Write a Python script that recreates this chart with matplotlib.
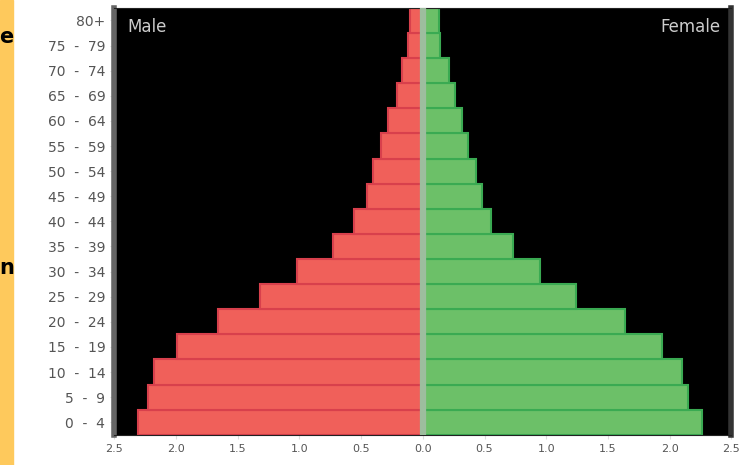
import numpy as np
import matplotlib.pyplot as plt
from matplotlib.patches import Rectangle

# ========= 1. Data =========
age_groups = ["0 - 4", "5 - 9", "10 - 14", "15 - 19", "20 - 24", "25 - 29",
              "30 - 34", "35 - 39", "40 - 44", "45 - 49", "50 - 54", "55 - 59",
              "60 - 64", "65 - 69", "70 - 74", "75 - 79", "80+"]
male = [2.31, 2.23, 2.18, 1.99, 1.66, 1.32, 1.02, 0.73, 0.56, 0.45, 0.40,
        0.34, 0.28, 0.21, 0.17, 0.12, 0.10]
female = [2.26, 2.15, 2.10, 1.94, 1.64, 1.24, 0.95, 0.73, 0.55, 0.48, 0.43,
          0.37, 0.32, 0.26, 0.21, 0.14, 0.13]
x_ticks = [-2.5, -2.0, -1.5, -1.0, -0.5, 0.0, 0.5, 1.0, 1.5, 2.0, 2.5]

# ========= 2. Figure =========
fig = plt.figure(figsize=(7.47, 4.65), dpi=100)
ax = fig.add_axes([0.153, 0.065, 0.826, 0.918])
ax.set_facecolor("black")

# yellow strip from the neighbouring panel (cropped in the source)
fig.patches.append(Rectangle((0, 0), 13 / 747, 1, transform=fig.transFigure,
                             color="#fec95c", zorder=0))
fig.text(6.5 / 747, 1 - 37 / 465, "e", ha="center", va="center", fontsize=15,
         fontweight="bold", color="black")
fig.text(6.5 / 747, 1 - 268 / 465, "n", ha="center", va="center", fontsize=15,
         fontweight="bold", color="black")

# ========= 3. Bars =========
y = np.arange(len(age_groups))
ax.barh(y, [-m for m in male], height=1.0, color="#f0605a",
        edgecolor="#d8404c", linewidth=1.5)
ax.barh(y, female, height=1.0, color="#6cc068",
        edgecolor="#3aaa52", linewidth=1.5)
ax.axvline(0, color="#9dbd9e", linewidth=4.5, zorder=3)

ax.set_xlim(-2.5, 2.5)
ax.set_ylim(-0.5, len(age_groups) - 0.5)

ax.set_yticks(y)
ax.set_yticklabels([a.replace(" - ", "  -  ") for a in age_groups],
                   fontsize=10, color="#555555")
ax.set_xticks(x_ticks)
ax.set_xticklabels([f"{abs(t):.1f}" for t in x_ticks], fontsize=8,
                   color="#555555")
ax.tick_params(axis="both", length=3, color="#dddddd")

ax.text(0.021, 0.955, "Male", transform=ax.transAxes, color="#cccccc",
        fontsize=12, ha="left", va="center")
ax.text(0.982, 0.955, "Female", transform=ax.transAxes, color="#cccccc",
        fontsize=12, ha="right", va="center")

ax.spines["left"].set_color("#666666")
ax.spines["left"].set_linewidth(4)
ax.spines["right"].set_color("#333333")
ax.spines["right"].set_linewidth(4)
ax.spines["top"].set_color("#222222")
ax.spines["bottom"].set_color("#222222")

plt.savefig("out.png", dpi=100)
plt.close()
